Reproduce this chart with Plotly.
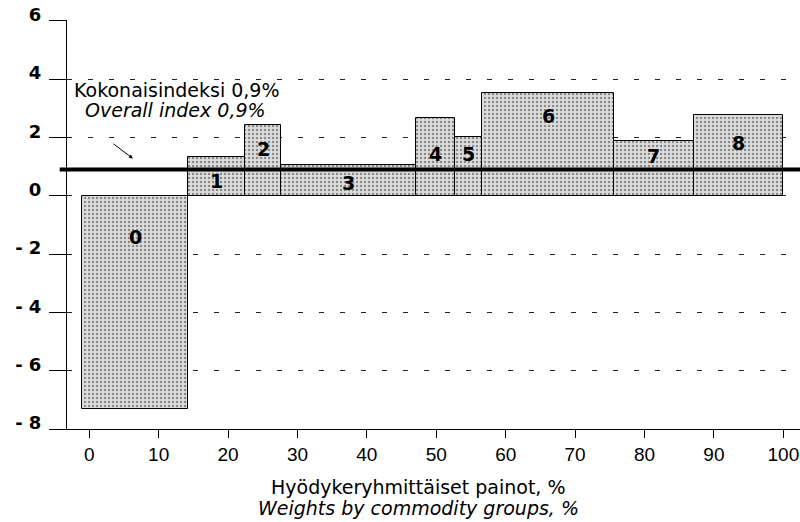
import plotly.graph_objects as go

# commodity group weight boundaries (cumulative %), and price change per group (%)
group_edges = [-1.0, 14.2, 22.4, 27.7, 47.1, 52.7, 56.6, 75.6, 87.1, 100.0]
changes = [-7.3, 1.33, 2.43, 1.06, 2.67, 2.02, 3.54, 1.88, 2.77]
group_labels = ["0", "1", "2", "3", "4", "5", "6", "7", "8"]
label_y = [-1.4, 0.5, 1.6, 0.45, 1.45, 1.45, 2.73, 1.38, 1.8]
overall_index = 0.9

y_ticks = [-8, -6, -4, -2, 0, 2, 4, 6]
y_ticktext = ["- 8", "- 6", "- 4", "- 2", "0", "2", "4", "6"]
x_ticks = [0, 10, 20, 30, 40, 50, 60, 70, 80, 90, 100]

centers = [(a + b) / 2 for a, b in zip(group_edges[:-1], group_edges[1:])]
widths = [b - a for a, b in zip(group_edges[:-1], group_edges[1:])]

font = "DejaVu Sans, sans-serif"
narrow = "Liberation Sans, Arial, sans-serif"

fig = go.Figure(go.Bar(
    x=centers, y=changes, width=widths,
    marker=dict(color="#d8d8d8",
                pattern=dict(shape=".", fgcolor="#333333", bgcolor="#dedede", size=4, solidity=0.3),
                line=dict(color="black", width=1)),
    hoverinfo="skip",
))

for xc, yl, t in zip(centers, label_y, group_labels):
    fig.add_annotation(x=xc, y=yl, text="<b>%s</b>" % t, showarrow=False,
                       font=dict(family=font, size=19, color="black"))

# overall index line
fig.add_shape(type="line", xref="paper", x0=-0.01, x1=1, yref="y", y0=overall_index, y1=overall_index,
              line=dict(color="black", width=4))

fig.add_annotation(x=0.007, xref="paper", y=3.63, yref="y", xanchor="left", showarrow=False, align="left",
                   text="Kokonaisindeksi 0,9%", font=dict(family=font, size=19, color="black"))
fig.add_annotation(x=0.022, xref="paper", y=2.96, yref="y", xanchor="left", showarrow=False, align="left",
                   text="<i>Overall index 0,9%</i>", font=dict(family=font, size=19, color="black"))
fig.add_annotation(x=6.3, y=1.28, ax=3.27, ay=1.82, axref="x", ayref="y", xref="x", yref="y",
                   showarrow=True, arrowhead=2, arrowsize=0.8, arrowwidth=1, arrowcolor="black", text="")

# x axis title, two lines
fig.add_annotation(x=0.479, xref="paper", y=-0.1418, yref="paper", yanchor="middle", showarrow=False,
                   text="Hyödykeryhmittäiset painot, %", font=dict(family=font, size=19, color="black"))
fig.add_annotation(x=0.479, xref="paper", y=-0.193, yref="paper", yanchor="middle", showarrow=False,
                   text="<i>Weights by commodity groups, %</i>", font=dict(family=font, size=19, color="black"))

fig.update_xaxes(range=[-3.2, 102.4], tickvals=x_ticks, showline=True, linecolor="black", linewidth=1,
                 ticks="outside", ticklen=8, tickcolor="black", showgrid=False, zeroline=False,
                 automargin=False, tickfont=dict(family=narrow, size=19, color="black"))
fig.update_yaxes(range=[-8, 6.03], tickvals=y_ticks, ticktext=y_ticktext, showline=True, linecolor="black",
                 linewidth=1, ticks="outside", ticklen=17, tickcolor="black", zeroline=False,
                 showgrid=True, gridcolor="#222222", gridwidth=1, griddash="5px,16px",
                 ticklabelshift=-6, ticklabelstandoff=4, automargin=False,
                 tickfont=dict(family=font, size=18, color="black", weight="bold"))

fig.update_layout(width=800, height=522, margin=dict(l=67, r=0, t=20, b=93),
                  plot_bgcolor="white", paper_bgcolor="white", showlegend=False, bargap=0)

fig.write_html("out.html", config={"displayModeBar": False},
               post_script="document.body.style.margin='0';")
